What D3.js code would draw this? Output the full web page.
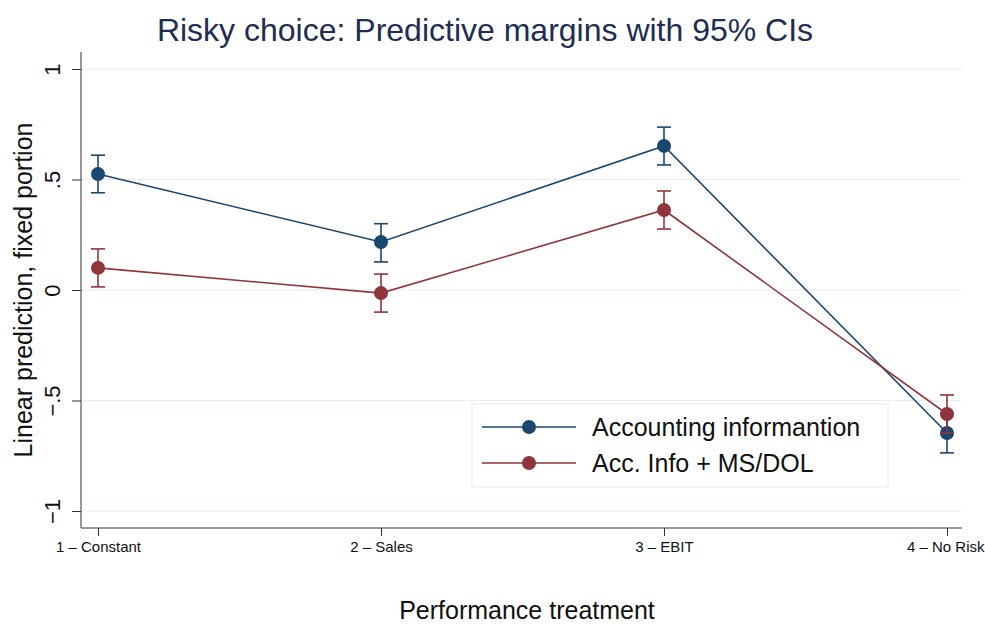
<!DOCTYPE html>
<html>
<head>
<meta charset="utf-8">
<script src="https://cdn.jsdelivr.net/npm/d3@7"></script>
<style>
  body { margin: 0; background: #fff; }
  svg text { font-family: "Liberation Sans", Arial, Helvetica, sans-serif; }
</style>
</head>
<body>
<div id="chart"></div>
<script>
// Data
var categories = ["1 \u2013 Constant", "2 \u2013 Sales", "3 \u2013 EBIT", "4 \u2013 No Risk"];
var yTicks = [-1, -0.5, 0, 0.5, 1];
var yTickLabels = ["\u22121", "\u2212.5", "0", ".5", "1"];
var seriesNames = ["Accounting informantion", "Acc. Info + MS/DOL"];

var accMargin = [0.525, 0.217, 0.652, -0.647];
var accLow = [0.44, 0.127, 0.566, -0.737];
var accHigh = [0.61, 0.30, 0.737, -0.557];

var dolMargin = [0.10, -0.014, 0.362, -0.561];
var dolLow = [0.014, -0.10, 0.276, -0.647];
var dolHigh = [0.186, 0.072, 0.448, -0.475];

var width = 985, height = 624;
var margin = { top: 69, right: 23, bottom: 96, left: 81 };
var colors = ["#1a476f", "#90353b"];

var series = [
  { name: seriesNames[0], color: colors[0], mid: accMargin, lo: accLow, hi: accHigh },
  { name: seriesNames[1], color: colors[1], mid: dolMargin, lo: dolLow, hi: dolHigh }
];

var svg = d3.select("#chart").append("svg")
  .attr("width", width)
  .attr("height", height);

var x = d3.scalePoint()
  .domain(categories)
  .range([98, 947]);

var y = d3.scaleLinear()
  .domain([-1, 1])
  .range([511, 69]);

var plotRight = 962;
var axisY = 528;

// Title
svg.append("text")
  .attr("x", 485)
  .attr("y", 41)
  .attr("text-anchor", "middle")
  .attr("font-size", 32)
  .attr("fill", "#1e2d53")
  .text("Risky choice: Predictive margins with 95% CIs");

// Grid lines
svg.append("g").selectAll("line")
  .data(yTicks)
  .enter().append("line")
  .attr("x1", margin.left)
  .attr("x2", plotRight)
  .attr("y1", function(d) { return y(d); })
  .attr("y2", function(d) { return y(d); })
  .attr("stroke", "#e6eef0")
  .attr("stroke-width", 1.2);

// Y axis
var yAxis = svg.append("g")
  .attr("transform", "translate(" + margin.left + ",0)")
  .call(d3.axisLeft(y).tickValues(yTicks).tickSize(9)
    .tickFormat(function(d, i) { return yTickLabels[i]; }));
yAxis.select(".domain").attr("d", "M0," + 52 + "V" + axisY).attr("stroke", "#333");
yAxis.selectAll(".tick line").attr("stroke", "#333");
yAxis.selectAll(".tick text")
  .attr("font-size", 22)
  .attr("fill", "#111")
  .attr("x", null)
  .attr("dy", null)
  .attr("text-anchor", "middle")
  .attr("transform", "translate(-29,0) rotate(-90)")
  .attr("y", 8);

// X axis
var xAxis = svg.append("g")
  .attr("transform", "translate(0," + axisY + ")")
  .call(d3.axisBottom(x).tickSize(8).tickPadding(5));
xAxis.select(".domain").attr("d", "M" + margin.left + ",0H" + plotRight).attr("stroke", "#333");
xAxis.selectAll(".tick line").attr("stroke", "#333");
xAxis.selectAll(".tick text")
  .attr("font-size", 15)
  .attr("fill", "#111");
xAxis.selectAll(".tick text").filter(function(d, i) { return i === categories.length - 1; })
  .attr("text-anchor", "end")
  .attr("dx", 37);

// Axis titles
svg.append("text")
  .attr("transform", "translate(32,290) rotate(-90)")
  .attr("text-anchor", "middle")
  .attr("font-size", 25)
  .attr("fill", "#111")
  .text("Linear prediction, fixed portion");

svg.append("text")
  .attr("x", 527)
  .attr("y", 619)
  .attr("text-anchor", "middle")
  .attr("font-size", 25)
  .attr("fill", "#111")
  .text("Performance treatment");

// Series
var line = d3.line()
  .x(function(d) { return x(d.cat); })
  .y(function(d) { return y(d.v); });

series.forEach(function(s) {
  var pts = categories.map(function(c, i) {
    return { cat: c, v: s.mid[i], lo: s.lo[i], hi: s.hi[i] };
  });
  var g = svg.append("g");

  g.append("path")
    .datum(pts)
    .attr("fill", "none")
    .attr("stroke", s.color)
    .attr("stroke-width", 1.6)
    .attr("d", line);

  // CI bars
  var ci = g.selectAll(".ci").data(pts).enter().append("g");
  ci.append("line")
    .attr("x1", function(d) { return x(d.cat); })
    .attr("x2", function(d) { return x(d.cat); })
    .attr("y1", function(d) { return y(d.lo); })
    .attr("y2", function(d) { return y(d.hi); })
    .attr("stroke", s.color).attr("stroke-width", 1.6);
  [function(d) { return y(d.lo); }, function(d) { return y(d.hi); }].forEach(function(fy) {
    ci.append("line")
      .attr("x1", function(d) { return x(d.cat) - 7; })
      .attr("x2", function(d) { return x(d.cat) + 7; })
      .attr("y1", fy)
      .attr("y2", fy)
      .attr("stroke", s.color).attr("stroke-width", 1.6);
  });

  g.selectAll("circle").data(pts).enter().append("circle")
    .attr("cx", function(d) { return x(d.cat); })
    .attr("cy", function(d) { return y(d.v); })
    .attr("r", 7)
    .attr("fill", s.color);
});

// Legend
var legend = svg.append("g").attr("transform", "translate(472,404)");
legend.append("rect")
  .attr("width", 416)
  .attr("height", 83)
  .attr("fill", "#fff")
  .attr("stroke", "#e4e8ea")
  .attr("stroke-width", 1);

series.forEach(function(s, i) {
  var ly = 23 + i * 36;
  legend.append("line")
    .attr("x1", 10).attr("x2", 104)
    .attr("y1", ly).attr("y2", ly)
    .attr("stroke", s.color).attr("stroke-width", 1.6);
  legend.append("circle")
    .attr("cx", 57).attr("cy", ly).attr("r", 7)
    .attr("fill", s.color);
  legend.append("text")
    .attr("x", 120)
    .attr("y", ly + 9)
    .attr("font-size", 25)
    .attr("fill", "#111")
    .text(s.name);
});
</script>
</body>
</html>
